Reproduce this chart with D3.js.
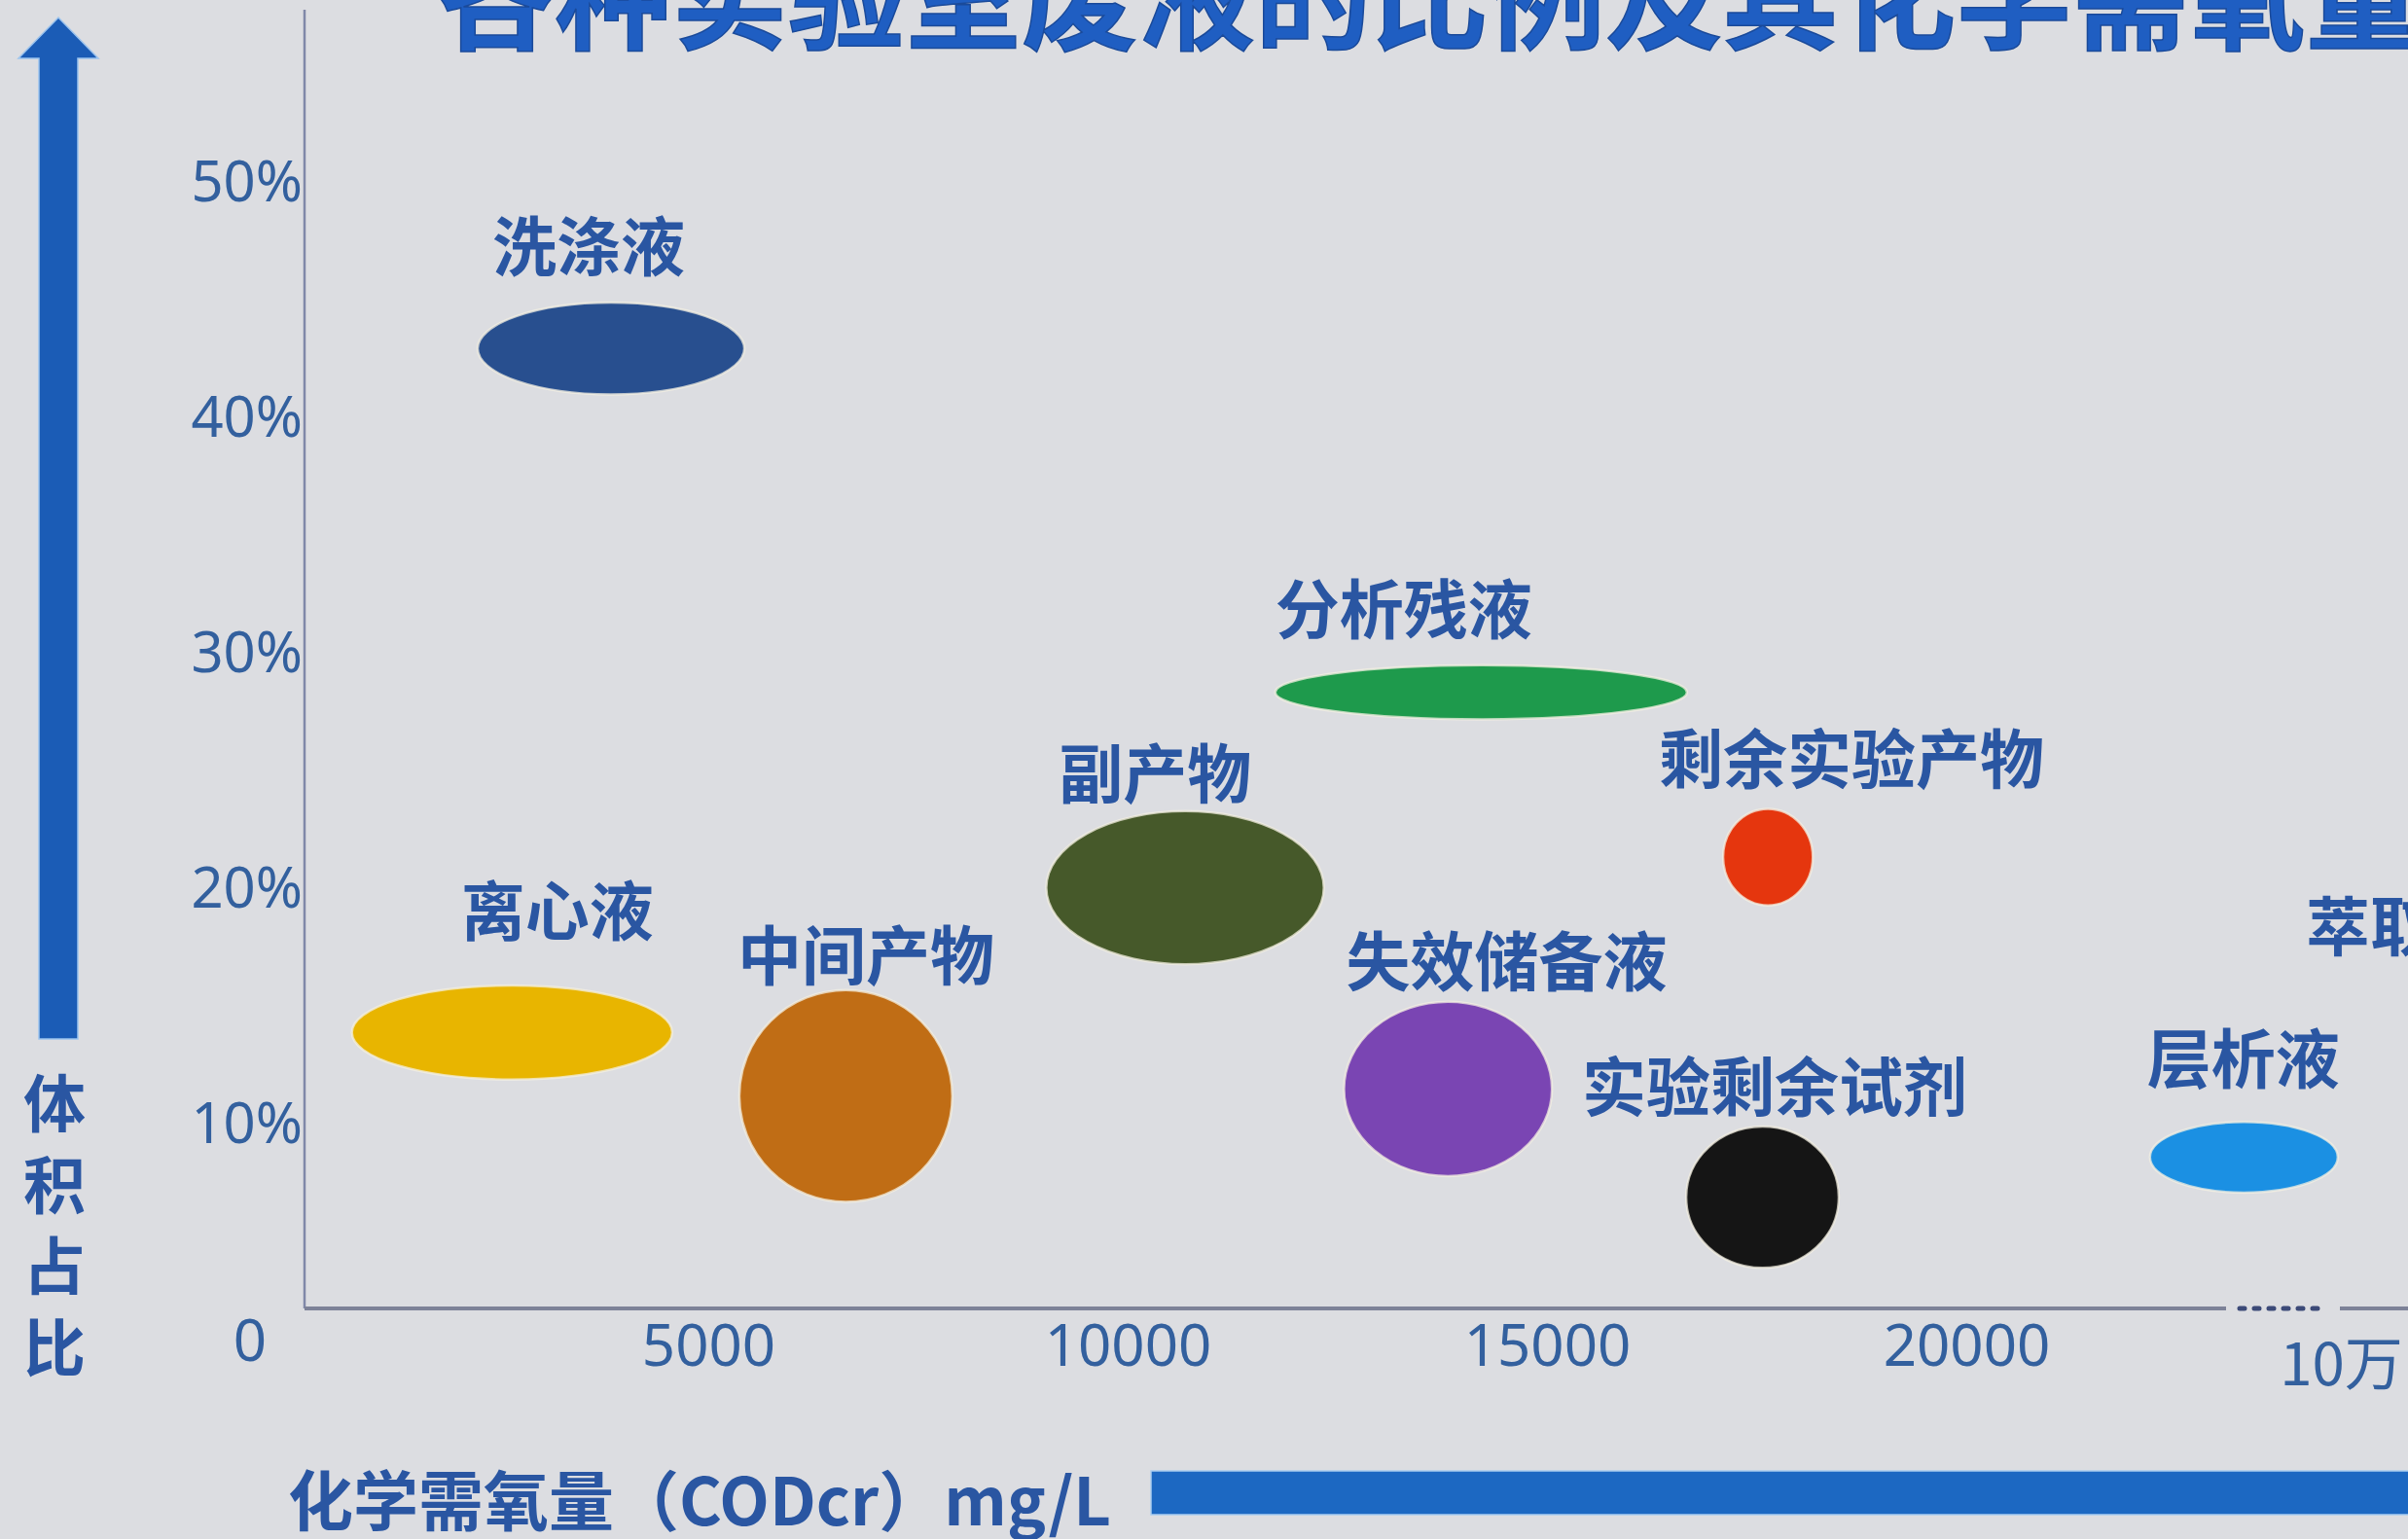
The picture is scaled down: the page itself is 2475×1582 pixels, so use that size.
<!DOCTYPE html>
<html>
<head>
<meta charset="utf-8">
<script src="https://cdn.jsdelivr.net/npm/d3@7"></script>
<style>
  html, body { margin: 0; padding: 0; background: #dcdde1; overflow: hidden; }
  svg { display: block; }
</style>
</head>
<body>
<svg id="chart" width="2475" height="1582"></svg>
<script>
// ---------------- data ----------------
const categories = ['洗涤液','离心液','中间产物','副产物','分析残液','剩余实验产物','失效储备液','实验剩余试剂','层析液','萃取液'];
// COD (mg/L) range covered by each waste type
const codLow  = [2250,  750, 5370,  9030, 11760, 17100, 12580, 16660, 22190, 108000];
const codHigh = [5430, 4570, 7910, 12340, 16670, 18170, 15060, 18480, 24430, 118000];
// volume share (%) range covered by each waste type
const shareLow  = [41.0, 11.9,  6.7, 16.8, 27.2, 19.3,  7.8, 3.9,  7.1, 11.0];
const shareHigh = [44.9, 15.9, 15.7, 23.3, 29.5, 23.4, 15.2, 9.9, 10.1, 16.0];

const yTicks = [10, 20, 30, 40, 50];
const yTickLabels = ['10%', '20%', '30%', '40%', '50%'];
const xTicks = [5000, 10000, 15000, 20000];
const xTickLabels = ['5000', '10000', '15000', '20000'];
const farTicks = [100000];
const farTickLabels = ['10万'];

const titleText = '各种实验室废液的比例及其化学需氧量';
const yTitle = '体积占比';
const xTitle = '化学需氧量（CODcr）mg/L';
const originLabel = '0';

// ---------------- styles / layout ----------------
const fills = ['#284f8f', '#e8b500', '#c06d15', '#46592a', '#1e9a4c', '#e5360e', '#7a45b3', '#151515', '#1b90e3', '#1b90e3'];
// label offsets: dx from ellipse left edge, dy from ellipse top to label centre
const labelDx = [15, 112, -2, 13, 0, -66, 2, -107, -3, -164];
const labelDy = [-62, -81, -40, -43, -62, -55, -46, -45, -69, -63];

const W = 2475, H = 1582;
const axisX = 313, axisY = 1345;
const cjk = '"Noto Sans CJK SC", "Noto Sans", sans-serif';
const latin = '"Noto Sans", "Open Sans", sans-serif';
const textBlue = '#2a56a2';
const tickBlue = '#33609e';

const svg = d3.select('#chart');

// scales
const xMain = d3.scaleLinear().domain([0, 20000]).range([297, 2021]);
const xFar = d3.scaleLinear().domain([100000, 110000]).range([2406, 2566]);
const x = v => (v < 50000 ? xMain(v) : xFar(v));
const y = d3.scaleLinear().domain([0, 50]).range([1397.7, 187.7]);

// background
svg.append('rect').attr('width', W).attr('height', H).attr('fill', '#dcdde1');

// title (cut at top, as in the photographed slide)
svg.append('text')
  .attr('x', 450).attr('y', 42)
  .attr('font-family', cjk).attr('font-weight', 700).attr('font-size', 120)
  .attr('fill', '#1f5ec2').attr('stroke', '#1a4a9a').attr('stroke-width', 1.5)
  .text(titleText);

// y axis line
svg.append('line')
  .attr('x1', axisX).attr('x2', axisX).attr('y1', 10).attr('y2', axisY)
  .attr('stroke', '#8088a8').attr('stroke-width', 2.5);

// x axis line with break
svg.append('line')
  .attr('x1', axisX).attr('x2', 2288).attr('y1', axisY).attr('y2', axisY)
  .attr('stroke', '#7d8298').attr('stroke-width', 4);
svg.append('line')
  .attr('x1', 2405).attr('x2', W).attr('y1', axisY).attr('y2', axisY)
  .attr('stroke', '#7d8298').attr('stroke-width', 4);
svg.append('line')
  .attr('x1', 2302).attr('x2', 2390).attr('y1', axisY).attr('y2', axisY)
  .attr('stroke', '#3c4a78').attr('stroke-width', 5)
  .attr('stroke-dasharray', '5 10').attr('stroke-linecap', 'round');

// y ticks
const yAxis = d3.axisLeft(y).tickValues(yTicks).tickSize(0).tickPadding(2)
  .tickFormat((d, i) => yTickLabels[i]);
const gy = svg.append('g').attr('transform', `translate(${axisX},0)`).call(yAxis);
gy.select('.domain').remove();
gy.selectAll('text').attr('font-family', latin).attr('font-size', 58).attr('fill', tickBlue);

// x ticks
const xAxis = d3.axisBottom(xMain).tickValues(xTicks).tickSize(0).tickPadding(16)
  .tickFormat((d, i) => xTickLabels[i]);
const gx = svg.append('g').attr('transform', `translate(0,${axisY})`).call(xAxis);
gx.select('.domain').remove();
gx.selectAll('text').attr('font-family', latin).attr('font-size', 60).attr('fill', tickBlue);

const farAxis = d3.axisBottom(xFar).tickValues(farTicks).tickSize(0).tickPadding(36)
  .tickFormat((d, i) => farTickLabels[i]);
const gf = svg.append('g').attr('transform', `translate(0,${axisY})`).call(farAxis);
gf.select('.domain').remove();
gf.selectAll('text').attr('font-family', cjk).attr('font-size', 60).attr('fill', tickBlue);

// origin label
svg.append('text')
  .attr('x', 257).attr('y', 1378).attr('dy', '0.35em')
  .attr('text-anchor', 'middle')
  .attr('font-family', latin).attr('font-size', 60).attr('fill', tickBlue)
  .text(originLabel);

// ellipses
const items = categories.map((c, i) => ({
  name: c,
  x0: x(codLow[i]), x1: x(codHigh[i]),
  yTop: y(shareHigh[i]), yBot: y(shareLow[i]),
  fill: fills[i], dx: labelDx[i], dy: labelDy[i]
}));

const plot = svg.append('g');
plot.selectAll('ellipse').data(items).join('ellipse')
  .attr('cx', d => (d.x0 + d.x1) / 2)
  .attr('cy', d => (d.yTop + d.yBot) / 2)
  .attr('rx', d => (d.x1 - d.x0) / 2)
  .attr('ry', d => (d.yBot - d.yTop) / 2)
  .attr('fill', d => d.fill)
  .attr('stroke', '#f3efe2').attr('stroke-opacity', 0.75).attr('stroke-width', 2.5);

plot.selectAll('text.lbl').data(items).join('text')
  .attr('class', 'lbl')
  .attr('x', d => d.x0 + d.dx)
  .attr('y', d => d.yTop + d.dy)
  .attr('dominant-baseline', 'central')
  .attr('font-family', cjk).attr('font-weight', 700).attr('font-size', 66)
  .attr('fill', textBlue)
  .text(d => d.name);

// vertical arrow (y direction)
svg.append('path')
  .attr('d', 'M60,18 L101,60 L80,60 L80,1068 L40,1068 L40,60 L19,60 Z')
  .attr('fill', '#1b5cb6').attr('stroke', '#9cc4ee').attr('stroke-width', 1.5);

// y title, stacked vertically
svg.append('g').selectAll('text').data(Array.from(yTitle)).join('text')
  .attr('x', 56)
  .attr('y', (d, i) => 1130 + i * 83.5)
  .attr('dominant-baseline', 'central')
  .attr('text-anchor', 'middle')
  .attr('font-family', cjk).attr('font-weight', 700).attr('font-size', 64)
  .attr('fill', textBlue)
  .text(d => d);

// x title
svg.append('text')
  .attr('x', 296).attr('y', 1538)
  .attr('dominant-baseline', 'central')
  .attr('font-family', cjk).attr('font-weight', 700).attr('font-size', 67)
  .attr('fill', textBlue)
  .text(xTitle);

// horizontal bar (x direction)
svg.append('rect')
  .attr('x', 1183).attr('y', 1512).attr('width', W - 1183 + 10).attr('height', 45)
  .attr('fill', '#1c68c2').attr('stroke', '#a8cdf0').attr('stroke-width', 1.5);
</script>
</body>
</html>
